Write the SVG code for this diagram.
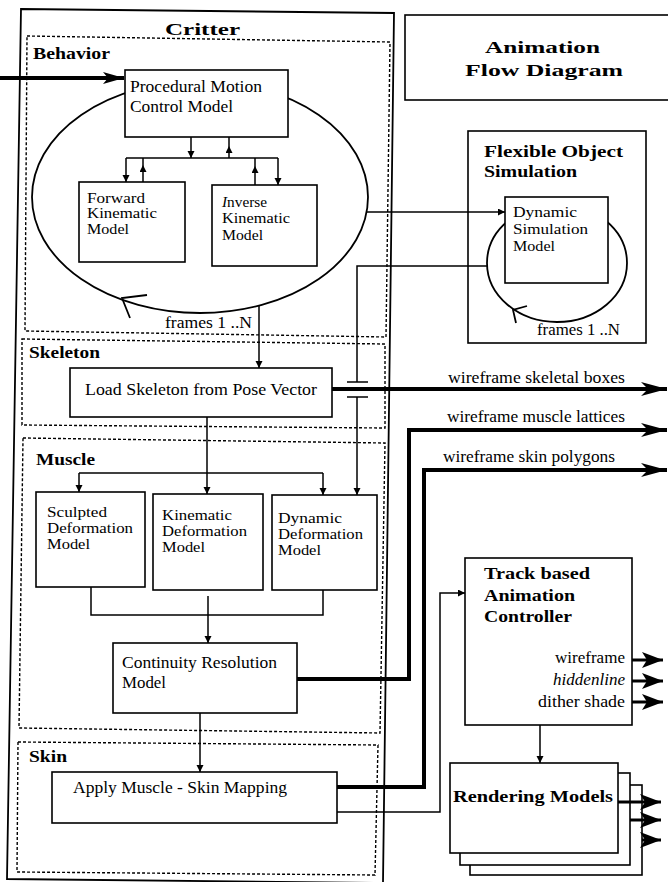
<svg xmlns="http://www.w3.org/2000/svg" width="668" height="882" viewBox="0 0 668 882">
<defs>
<style>
.box{fill:#fff;stroke:#000;stroke-width:1.6}
.frame{fill:none;stroke:#000;stroke-width:1.8}
.dash{fill:none;stroke:#000;stroke-width:1.4;stroke-dasharray:3 2}
.ln{fill:none;stroke:#000;stroke-width:1.5}
.loop{fill:none;stroke:#000;stroke-width:1.8}
.thick{fill:none;stroke:#000;stroke-width:4}
.mid{fill:none;stroke:#000;stroke-width:3}
.t{font-family:"Liberation Serif","Times New Roman",serif;font-size:16px;fill:#000}
.s{font-size:14.5px}
.b{font-weight:bold}
.i{font-style:italic}
</style>
<marker id="sm" markerUnits="userSpaceOnUse" markerWidth="8" markerHeight="8" refX="7" refY="3.5" orient="auto"><path d="M0,0 L7,3.5 L0,7 z"/></marker>
<marker id="big" markerUnits="userSpaceOnUse" markerWidth="28" markerHeight="18" refX="26" refY="8" orient="auto"><path d="M0,1 L26,8 L0,15 L7,8 z"/></marker>
<marker id="med" markerUnits="userSpaceOnUse" markerWidth="22" markerHeight="18" refX="21" refY="8" orient="auto"><path d="M0,0 L21,8 L0,16 L5,8 z"/></marker>
<marker id="inp" markerUnits="userSpaceOnUse" markerWidth="22" markerHeight="14" refX="21" refY="6" orient="auto"><path d="M0,0 L21,6 L0,12 L5,6 z"/></marker>
</defs>
<rect width="668" height="882" fill="#fff"/>

<g id="critter">
<path class="frame" d="M21,9 L394,13 L383,883 L7,879 Z"/>
<text class="t b" x="165" y="35" font-size="22" textLength="75" lengthAdjust="spacingAndGlyphs">Critter</text>
</g>
<g id="behavior-section">
<path class="dash" d="M27,36 L390,42 L386,337 L25,331 Z"/>
<text class="t b" x="33" y="59" textLength="77" lengthAdjust="spacingAndGlyphs">Behavior</text>
</g>
<g id="skeleton-section">
<path class="dash" d="M22,339 L385,344 L385,428 L22,425 Z"/>
<text class="t b" x="29" y="358" textLength="71" lengthAdjust="spacingAndGlyphs">Skeleton</text>
</g>
<g id="muscle-section">
<path class="dash" d="M23,438 L385,443 L380,733 L19,728 Z"/>
<text class="t b" x="36" y="465" textLength="59" lengthAdjust="spacingAndGlyphs">Muscle</text>
</g>
<g id="skin-section">
<path class="dash" d="M18,742 L378,745 L375,875 L17,872 Z"/>
<text class="t b" x="29" y="762" textLength="38" lengthAdjust="spacingAndGlyphs">Skin</text>
</g>

<g id="title">
<rect class="box" x="405" y="15" width="270" height="85"/>
<text class="t b" x="485" y="53" font-size="24" textLength="115" lengthAdjust="spacingAndGlyphs">Animation</text>
<text class="t b" x="465" y="76" font-size="24" textLength="158" lengthAdjust="spacingAndGlyphs">Flow Diagram</text>
</g>

<g id="loops">
<ellipse class="loop" cx="200" cy="197" rx="168" ry="116"/>
<path class="loop" d="M147,295 L122,298 L130,318"/>
<text class="t" x="165" y="328" font-size="15" textLength="87" lengthAdjust="spacingAndGlyphs">frames 1 ..N</text>
</g>

<g id="flexible-object-simulation">
<rect class="box" x="468" y="131" width="178" height="212"/>
<text class="t b" x="484" y="157" font-size="16.5" textLength="139" lengthAdjust="spacingAndGlyphs">Flexible Object</text>
<text class="t b" x="484" y="177" font-size="16.5" textLength="93" lengthAdjust="spacingAndGlyphs">Simulation</text>
<ellipse class="loop" cx="557" cy="263" rx="70" ry="59"/>
<path class="loop" d="M527,306 L513,310 L516,323"/>
<text class="t" x="537" y="335" font-size="15" textLength="83" lengthAdjust="spacingAndGlyphs">frames 1 ..N</text>
</g>

<g id="procedural-motion">
<rect class="box" x="125" y="70" width="163" height="67"/>
<text class="t" x="130" y="92" font-size="17.5" textLength="132" lengthAdjust="spacingAndGlyphs">Procedural Motion</text>
<text class="t" x="130" y="112" font-size="17.5" textLength="103" lengthAdjust="spacingAndGlyphs">Control Model</text>
</g>
<g id="forward-kinematic">
<rect class="box" x="79" y="182" width="106" height="80"/>
<text class="t s" x="87" y="203" textLength="58" lengthAdjust="spacingAndGlyphs">Forward</text>
<text class="t s" x="87" y="218" textLength="70" lengthAdjust="spacingAndGlyphs">Kinematic</text>
<text class="t s" x="87" y="234" textLength="42" lengthAdjust="spacingAndGlyphs">Model</text>
</g>
<g id="inverse-kinematic">
<rect class="box" x="212" y="185" width="105" height="81"/>
<text class="t s" x="222" y="207" textLength="45" lengthAdjust="spacingAndGlyphs"><tspan class="i">I</tspan>nverse</text>
<text class="t s" x="222" y="223" textLength="68" lengthAdjust="spacingAndGlyphs">Kinematic</text>
<text class="t s" x="222" y="240" textLength="41" lengthAdjust="spacingAndGlyphs">Model</text>
</g>
<g id="dynamic-simulation">
<rect class="box" x="505" y="197" width="103" height="86"/>
<text class="t s" x="513" y="217" textLength="64" lengthAdjust="spacingAndGlyphs">Dynamic</text>
<text class="t s" x="513" y="234" textLength="75" lengthAdjust="spacingAndGlyphs">Simulation</text>
<text class="t s" x="513" y="251" textLength="42" lengthAdjust="spacingAndGlyphs">Model</text>
</g>
<g id="load-skeleton">
<rect class="box" x="70" y="368" width="262" height="49"/>
<text class="t" x="85" y="395" font-size="17.5" textLength="232" lengthAdjust="spacingAndGlyphs">Load Skeleton from Pose Vector</text>
</g>
<g id="sculpted-deformation">
<rect class="box" x="36" y="492" width="109" height="95"/>
<text class="t s" x="47" y="517" textLength="60" lengthAdjust="spacingAndGlyphs">Sculpted</text>
<text class="t s" x="47" y="533" textLength="86" lengthAdjust="spacingAndGlyphs">Deformation</text>
<text class="t s" x="47" y="549" textLength="43" lengthAdjust="spacingAndGlyphs">Model</text>
</g>
<g id="kinematic-deformation">
<rect class="box" x="153" y="494" width="110" height="96"/>
<text class="t s" x="162" y="520" textLength="70" lengthAdjust="spacingAndGlyphs">Kinematic</text>
<text class="t s" x="162" y="536" textLength="85" lengthAdjust="spacingAndGlyphs">Deformation</text>
<text class="t s" x="162" y="552" textLength="43" lengthAdjust="spacingAndGlyphs">Model</text>
</g>
<g id="dynamic-deformation">
<rect class="box" x="272" y="495" width="105" height="95"/>
<text class="t s" x="278" y="523" textLength="64" lengthAdjust="spacingAndGlyphs">Dynamic</text>
<text class="t s" x="278" y="539" textLength="85" lengthAdjust="spacingAndGlyphs">Deformation</text>
<text class="t s" x="278" y="555" textLength="43" lengthAdjust="spacingAndGlyphs">Model</text>
</g>
<g id="continuity-resolution">
<rect class="box" x="113" y="643" width="184" height="70"/>
<text class="t" x="122" y="668" font-size="17" textLength="155" lengthAdjust="spacingAndGlyphs">Continuity  Resolution</text>
<text class="t" x="122" y="688" font-size="17" textLength="44" lengthAdjust="spacingAndGlyphs">Model</text>
</g>
<g id="apply-muscle-skin">
<rect class="box" x="52" y="772" width="285" height="51"/>
<text class="t" x="73" y="793" font-size="17.5" textLength="214" lengthAdjust="spacingAndGlyphs">Apply Muscle - Skin Mapping</text>
</g>
<g id="track-controller">
<rect class="box" x="465" y="558" width="167" height="167"/>
<text class="t b" x="484" y="579" font-size="18" textLength="106" lengthAdjust="spacingAndGlyphs">Track based</text>
<text class="t b" x="484" y="601" font-size="18" textLength="91" lengthAdjust="spacingAndGlyphs">Animation</text>
<text class="t b" x="484" y="622" font-size="18" textLength="88" lengthAdjust="spacingAndGlyphs">Controller</text>
<text class="t" x="625" y="663" font-size="14.5" text-anchor="end" textLength="70" lengthAdjust="spacingAndGlyphs">wireframe</text>
<text class="t i" x="625" y="685" font-size="14.5" text-anchor="end" textLength="72" lengthAdjust="spacingAndGlyphs">hiddenline</text>
<text class="t" x="625" y="707" font-size="14.5" text-anchor="end" textLength="87" lengthAdjust="spacingAndGlyphs">dither shade</text>
</g>
<g id="rendering-models">
<rect class="box" x="470" y="785" width="172" height="90"/>
<rect class="box" x="460" y="773" width="170" height="92"/>
<rect class="box" x="450" y="763" width="168" height="90"/>
<text class="t b" x="453" y="802" font-size="19" textLength="160" lengthAdjust="spacingAndGlyphs">Rendering Models</text>
</g>

<g id="connectors">
<path class="thick" d="M0,78 H124" marker-end="url(#inp)"/>
<path class="ln" d="M191,137 V158" marker-end="url(#sm)"/>
<path class="ln" d="M229,158 L229,146 L229,137" marker-mid="url(#sm)"/>
<path class="ln" d="M126,158 H278"/>
<path class="ln" d="M126,158 V182" marker-end="url(#sm)"/>
<path class="ln" d="M143,182 L143,165 L143,158" marker-mid="url(#sm)"/>
<path class="ln" d="M255,185 L255,166 L255,158" marker-mid="url(#sm)"/>
<path class="ln" d="M278,158 V185" marker-end="url(#sm)"/>
<path class="ln" d="M366,212 H505" marker-end="url(#sm)"/>
<path class="ln" d="M487,266 H357 V382"/>
<path class="ln" d="M347,382 H368 M347,397 H368"/>
<path class="ln" d="M357,397 V495" marker-end="url(#sm)"/>
<path class="ln" d="M259,305 V368" marker-end="url(#sm)"/>
<path class="ln" d="M207,417 V473"/>
<path class="ln" d="M79,473 H323"/>
<path class="ln" d="M79,473 V492" marker-end="url(#sm)"/>
<path class="ln" d="M207,473 V494" marker-end="url(#sm)"/>
<path class="ln" d="M323,473 V495" marker-end="url(#sm)"/>
<path class="ln" d="M91,587 V615 H323 V590"/>
<path class="ln" d="M208,596 V643" marker-end="url(#sm)"/>
<path class="ln" d="M200,713 V772" marker-end="url(#sm)"/>
<path class="thick" d="M332,389 H667" marker-end="url(#big)"/>
<text class="t" x="448" y="383" textLength="177" lengthAdjust="spacingAndGlyphs">wireframe  skeletal  boxes</text>
<path class="thick" d="M297,679 H409 V430 H667" marker-end="url(#big)"/>
<text class="t" x="447" y="422" textLength="178" lengthAdjust="spacingAndGlyphs">wireframe  muscle  lattices</text>
<path class="thick" d="M337,787 H424 V470 H667" marker-end="url(#big)"/>
<text class="t" x="443" y="462" textLength="172" lengthAdjust="spacingAndGlyphs">wireframe  skin  polygons</text>
<path class="ln" d="M337,812 H440 V593 H465" marker-end="url(#sm)"/>
<path class="ln" d="M540,725 V763" marker-end="url(#sm)"/>
<path class="mid" d="M632,660 H663" marker-end="url(#med)"/>
<path class="mid" d="M632,681 H663" marker-end="url(#med)"/>
<path class="mid" d="M632,702 H663" marker-end="url(#med)"/>
<path class="mid" d="M618,802 H661" marker-end="url(#med)"/>
<path class="mid" d="M630,820 H661" marker-end="url(#med)"/>
<path class="mid" d="M642,840 H661" marker-end="url(#med)"/>
</g>
</svg>
